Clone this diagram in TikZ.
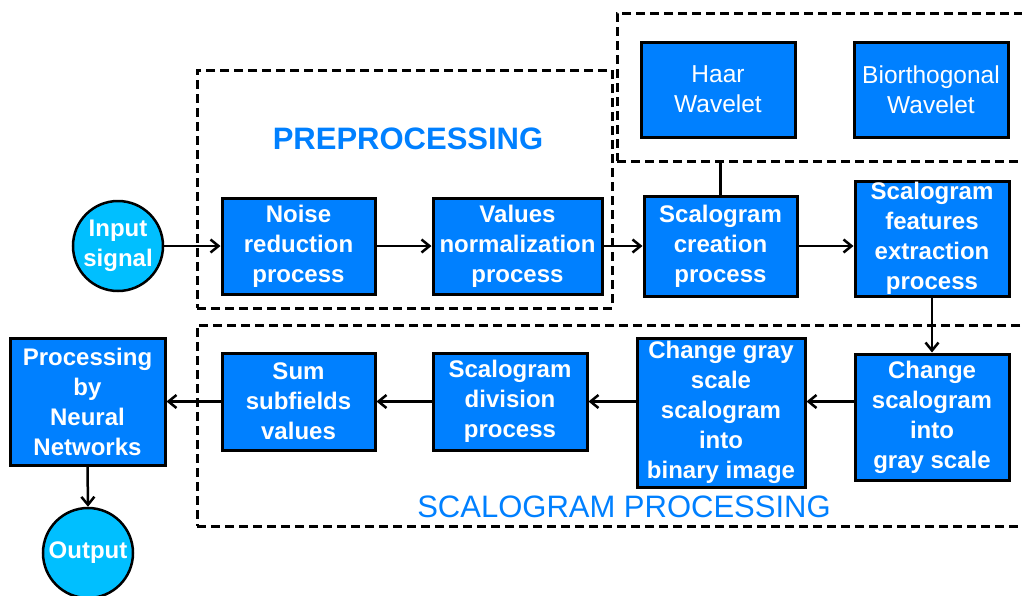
\documentclass[tikz,border=0pt]{standalone}
\usepackage{fontspec}
\setmainfont{Liberation Sans}
\usetikzlibrary{arrows.meta}
\definecolor{boxblue}{RGB}{0,128,255}
\definecolor{circblue}{RGB}{0,191,255}
\definecolor{lblblue}{RGB}{0,128,255}
\begin{document}
\begin{tikzpicture}[x=1pt,y=-1pt,
  proc/.style={draw=black, line width=3pt, fill=boxblue, text=white,
    font=\fontsize{24}{30}\selectfont\bfseries, align=center, inner sep=0pt},
  wav/.style={proc, font=\fontsize{24.5}{30}\selectfont},
  circ/.style={circle, draw=black, line width=2.5pt, fill=circblue, text=white,
    font=\fontsize{24}{30}\selectfont\bfseries, align=center, minimum size=90pt, inner sep=0pt},
  grp/.style={draw=black, dash pattern=on 9pt off 5pt, line width=3pt, inner sep=0pt},
  arr/.style={line width=2.5pt, -{Straight Barb[length=8pt,width=13pt]}},
  conn/.style={line width=2.5pt},
  lbl/.style={text=lblblue, inner sep=0pt}
]
\useasboundingbox (0,0) rectangle (1022,595);
\clip (0,0) rectangle (1022,595);
\fill[white] (0,0) rectangle (1022,595);

% group boxes
\node[grp, minimum width=415pt, minimum height=238pt] (pre) at (404.5,189) {};
\node[grp, minimum width=423pt, minimum height=148pt] (wave) at (828.5,87) {};
\node[grp, minimum width=843pt, minimum height=201pt] (scp) at (618.5,425.5) {};

\node[lbl, font=\fontsize{31}{36}\selectfont\bfseries] (prelbl) at (408,139) {PREPROCESSING};
\node[lbl, font=\fontsize{31}{36}\selectfont] (scplbl) at (624,507) {SCALOGRAM PROCESSING};

% nodes
\node[circ] (in) at (118,246) {Input\\signal};
\node[proc, minimum width=153pt, minimum height=96pt] (noise) at (298.5,246) {Noise\\reduction\\process};
\node[proc, minimum width=169pt, minimum height=96pt] (norm) at (517.5,246) {Values\\normalization\\process};
\node[proc, minimum width=153pt, minimum height=100pt] (create) at (720.5,246) {Scalogram\\creation\\process};
\node[proc, minimum width=154pt, minimum height=115pt] (feat) at (932,238.5) {Scalogram\\features\\extraction\\process};
\node[wav, minimum width=154pt, minimum height=95pt] (haar) at (718,89.5) {Haar\\Wavelet};
\node[wav, minimum width=154pt, minimum height=95pt] (bior) at (931,89.5) {Biorthogonal\\Wavelet};
\node[proc, minimum width=154pt, minimum height=126pt] (gray) at (932,417) {Change\\scalogram\\into\\gray scale};
\node[proc, minimum width=168pt, minimum height=149pt] (bin) at (721,412.5) {Change gray\\scale\\scalogram\\into\\binary image};
\node[proc, minimum width=154pt, minimum height=97pt] (div) at (510,401.5) {Scalogram\\division\\process};
\node[proc, minimum width=153pt, minimum height=97pt] (sum) at (298.5,401.5) {Sum\\subfields\\values};
\node[proc, minimum width=155pt, minimum height=127pt] (nn) at (87.5,401.5) {Processing\\by\\Neural\\Networks};
\node[circ] (out) at (88,553) {Output};

% connectors
\draw[arr] (in.east) -- (noise.west);
\draw[arr] (noise.east) -- (norm.west);
\draw[arr] (norm.east) -- (create.west);
\draw[conn] (create.north) -- (create.north |- wave.south);
\draw[arr] (create.east) -- (create.east -| feat.west);
\draw[arr] (feat.south) -- (gray.north);
\draw[arr] (gray.west |- div.east) -- (bin.east |- div.east);
\draw[arr] (bin.west |- div.east) -- (div.east);
\draw[arr] (div.west) -- (sum.east);
\draw[arr] (sum.west) -- (nn.east |- sum.west);
\draw[arr] (nn.south) -- (out.north);
\end{tikzpicture}
\end{document}
